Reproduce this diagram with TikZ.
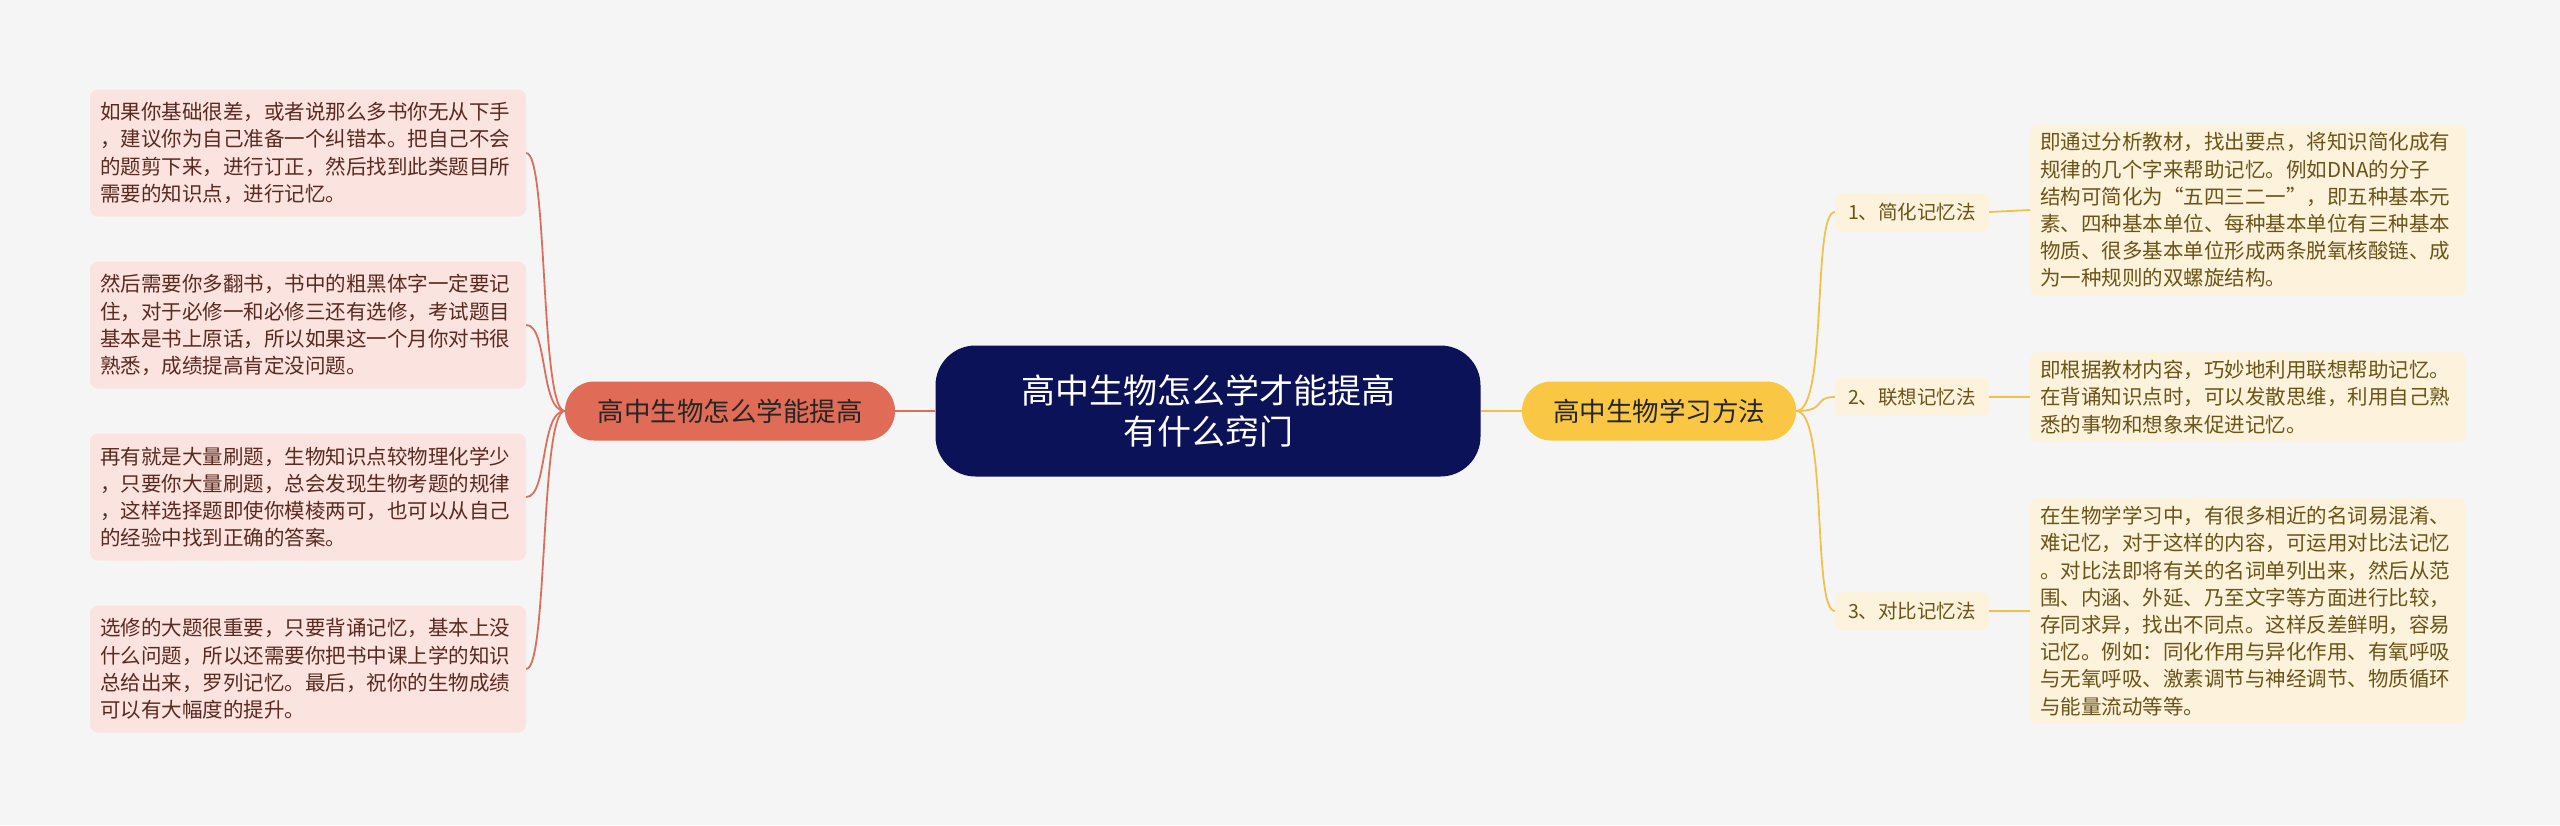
\documentclass[tikz,border=0pt]{standalone}
\usepackage{fontspec}
\newfontfamily\cjk{Noto Sans CJK SC}
\definecolor{bg}{HTML}{F5F5F5}
\definecolor{navy}{HTML}{0B1257}
\definecolor{redm}{HTML}{E06C57}
\definecolor{redl}{HTML}{FBE3DF}
\definecolor{redline}{HTML}{D9705C}
\definecolor{redtext}{HTML}{5A2A20}
\definecolor{yelm}{HTML}{F9C744}
\definecolor{yell}{HTML}{FDF3DC}
\definecolor{yelline}{HTML}{F3C04A}
\definecolor{yeltext}{HTML}{6B5418}
\begin{document}
\begin{tikzpicture}[x=1pt,y=-1pt,
  leaf/.style={fill=#1,rounded corners=8pt,align=left,inner xsep=10pt,inner ysep=8pt,text width=416pt,font=\fontsize{20.5}{27.2}\selectfont\cjk},
  lleaf/.style={leaf=redl,text=redtext,minimum height=127pt},
  rleaf/.style={leaf=yell,text=yeltext},
  sub/.style={fill=yell,rounded corners=6pt,text=yeltext,font=\fontsize{19.5}{24}\selectfont\cjk,minimum width=154pt,minimum height=38pt,inner sep=2pt},
  rl/.style={redline,line width=1.8pt},
  yl/.style={yelline,line width=1.8pt}]
\fill[bg] (0,0) rectangle (2560,825);
\node[fill=navy,rounded corners=40pt,minimum width=545pt,minimum height=131pt,text=white,align=center,font=\fontsize{34}{41}\selectfont\cjk] (c) at (1208,411) {高中生物怎么学才能提高\\有什么窍门};
\node[fill=redm,rounded corners=29pt,minimum width=330pt,minimum height=59pt,text=black!85,font=\fontsize{26.5}{30}\selectfont\cjk] (lm) at (730,411) {高中生物怎么学能提高};
\node[fill=yelm,rounded corners=29pt,minimum width=274pt,minimum height=59pt,text=black!85,font=\fontsize{26.5}{30}\selectfont\cjk] (rm) at (1659,411) {高中生物学习方法};
\draw[rl] (c.west) -- (lm.east);
\draw[yl] (c.east) -- (rm.east -| c.east) -- (rm.west);

\node[lleaf] (l1) at (308,153) {如果你基础很差，或者说那么多书你无从下手\\，建议你为自己准备一个纠错本。把自己不会\\的题剪下来，进行订正，然后找到此类题目所\\需要的知识点，进行记忆。};
\node[lleaf] (l2) at (308,325) {然后需要你多翻书，书中的粗黑体字一定要记\\住，对于必修一和必修三还有选修，考试题目\\基本是书上原话，所以如果这一个月你对书很\\熟悉，成绩提高肯定没问题。};
\node[lleaf] (l3) at (308,497) {再有就是大量刷题，生物知识点较物理化学少\\，只要你大量刷题，总会发现生物考题的规律\\，这样选择题即使你模棱两可，也可以从自己\\的经验中找到正确的答案。};
\node[lleaf] (l4) at (308,669) {选修的大题很重要，只要背诵记忆，基本上没\\什么问题，所以还需要你把书中课上学的知识\\总给出来，罗列记忆。最后，祝你的生物成绩\\可以有大幅度的提升。};
\foreach \n in {l1,l2,l3,l4}
  \draw[rl] (lm.west) .. controls (540,411) and (548,0 |- \n.east) .. (\n.east);

\node[sub] (s1) at (1912,212) {1、简化记忆法};
\node[sub] (s2) at (1912,397) {2、联想记忆法};
\node[sub] (s3) at (1912,611) {3、对比记忆法};
\foreach \n in {s1,s2,s3}
  \draw[yl] (rm.east) .. controls (1828,411) and (1812,0 |- \n.west) .. (\n.west);

\node[rleaf,anchor=west] (r1) at (2030,210) {即通过分析教材，找出要点，将知识简化成有\\规律的几个字来帮助记忆。例如DNA的分子\\结构可简化为“五四三二一”，即五种基本元\\素、四种基本单位、每种基本单位有三种基本\\物质、很多基本单位形成两条脱氧核酸链、成\\为一种规则的双螺旋结构。};
\node[rleaf,anchor=west] (r2) at (2030,397) {即根据教材内容，巧妙地利用联想帮助记忆。\\在背诵知识点时，可以发散思维，利用自己熟\\悉的事物和想象来促进记忆。};
\node[rleaf,anchor=west] (r3) at (2030,611) {在生物学学习中，有很多相近的名词易混淆、\\难记忆，对于这样的内容，可运用对比法记忆\\。对比法即将有关的名词单列出来，然后从范\\围、内涵、外延、乃至文字等方面进行比较，\\存同求异，找出不同点。这样反差鲜明，容易\\记忆。例如：同化作用与异化作用、有氧呼吸\\与无氧呼吸、激素调节与神经调节、物质循环\\与能量流动等等。};
\draw[yl] (s1.east) -- (r1.west);
\draw[yl] (s2.east) -- (r2.west);
\draw[yl] (s3.east) -- (r3.west);
\end{tikzpicture}
\end{document}
